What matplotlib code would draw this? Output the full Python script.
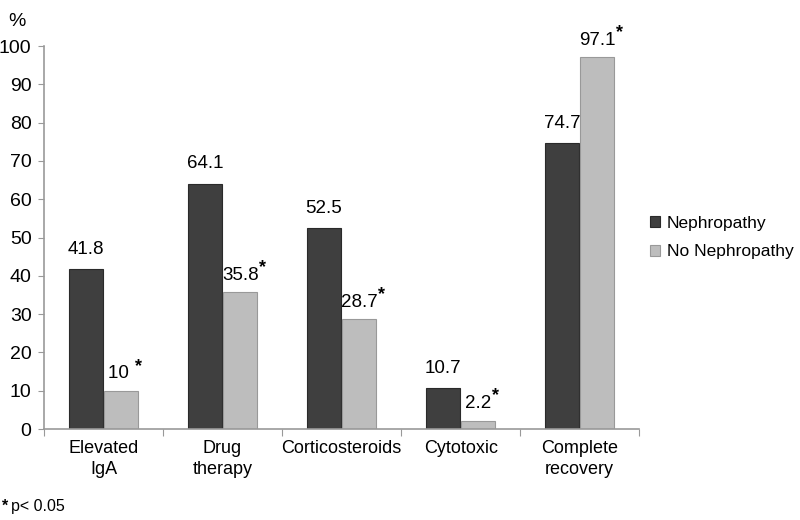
import numpy as np
import matplotlib.pyplot as plt

categories = ["Elevated\nIgA", "Drug\ntherapy", "Corticosteroids", "Cytotoxic", "Complete\nrecovery"]
nephropathy = [41.8, 64.1, 52.5, 10.7, 74.7]
no_nephropathy = [10, 35.8, 28.7, 2.2, 97.1]
no_neph_labels = ["10 ", "35.8", "28.7", "2.2", "97.1"]

plt.rcParams["font.family"] = ["Liberation Sans", "DejaVu Sans"]

fig = plt.figure(figsize=(8, 5.2), dpi=100)
ax = fig.add_axes([0.055, 0.175, 0.744, 0.7365])

x = np.arange(len(categories)) + 0.5
w = 0.285
b1 = ax.bar(x - w / 2 - 0.006, nephropathy, w, color="#3f3f3f", edgecolor="#2a2a2a",
            linewidth=0.8, label="Nephropathy")
b2 = ax.bar(x + w / 2 + 0.006, no_nephropathy, w, color="#bdbdbd", edgecolor="#999999",
            linewidth=0.8, label="No Nephropathy")

# value labels
for rect, v in zip(b1, nephropathy):
    ax.annotate(f"{v}", (rect.get_x() + rect.get_width() / 2, v), xytext=(0, 8),
                textcoords="offset points", ha="center", va="bottom", fontsize=13.5)
for rect, v, lab in zip(b2, no_nephropathy, no_neph_labels):
    t = ax.annotate(lab, (rect.get_x() + rect.get_width() / 2, v), xytext=(0, 6),
                    textcoords="offset points", ha="center", va="bottom", fontsize=13.5)
    # significance marker right after the number
    ax.annotate("*", xy=(1.0, 0.95), xycoords=t, xytext=(0.5, 0), textcoords="offset points",
                ha="left", va="center", fontsize=13, fontweight="bold")

ax.set_xlim(0, len(categories))
ax.set_ylim(0, 100)
ax.set_yticks(np.arange(0, 101, 10))
ax.set_xticks(np.arange(0, len(categories) + 1))
ax.set_xticklabels([])
ax.set_xticks(x, minor=True)
ax.set_xticklabels(categories, minor=True, fontsize=13, linespacing=1.3)
ax.tick_params(axis="x", which="minor", length=0, pad=8)
ax.tick_params(axis="x", which="major", length=5, color="#999999")
ax.tick_params(axis="y", length=4, color="#999999", labelsize=14, pad=5)

for s in ["top", "right"]:
    ax.spines[s].set_visible(False)
for s in ["left", "bottom"]:
    ax.spines[s].set_color("#999999")
    ax.spines[s].set_linewidth(1.2)

fig.text(0.01, 0.975, "%", fontsize=14, va="top")
star = fig.text(0.002, 0.012, "*", fontsize=11.5, fontweight="bold", va="bottom")
fig.text(0.014, 0.012, "p< 0.05", fontsize=11.5, va="bottom")

ax.legend(loc="center left", bbox_to_anchor=(1.0, 0.5), frameon=False, fontsize=12.5,
          handlelength=0.6, handleheight=0.6, handletextpad=0.4, labelspacing=0.8,
          borderaxespad=0.2)

fig.savefig("out.png", dpi=100)
